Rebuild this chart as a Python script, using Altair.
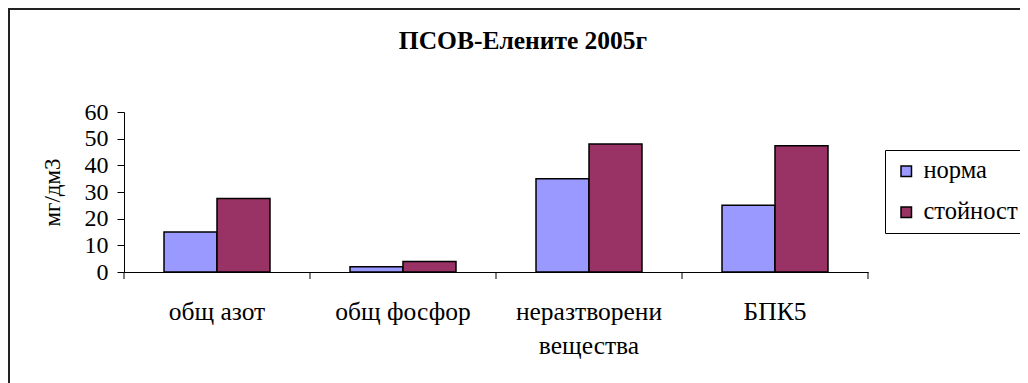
import altair as alt
import pandas as pd

title_text = ["ПСОВ-Елените 2005г"]
categories = ["общ азот", "общ фосфор", "неразтворени вещества", "БПК5"]
series = ["норма", "стойност"]
norma = [15, 2, 35, 25]
stoinost = [27.6, 3.9, 48, 47.3]
colors = ["#9999FF", "#993366"]
y_ticks = [0, 10, 20, 30, 40, 50, 60]
y_title = "мг/дм3"

rows = []
for c, n, s in zip(categories, norma, stoinost):
    rows.append({"cat": c, "series": series[0], "value": n})
    rows.append({"cat": c, "series": series[1], "value": s})
df = pd.DataFrame(rows)
cat_df = pd.DataFrame({"cat": categories})
title_df = pd.DataFrame({"t": title_text})
one = pd.DataFrame({"a": [0]})

W, H = 1012, 375
FONT = "Liberation Serif"
X0, X1 = 116, 860
Y0, Y1 = 264, 104

xscale = alt.Scale(domain=categories, range=[X0, X1], paddingInner=0, paddingOuter=0)
yscale = alt.Scale(domain=[0, 60], range=[Y0, Y1], nice=False, zero=True)

bars = alt.Chart(df).mark_bar(stroke="black", strokeWidth=1.5).encode(
    x=alt.X("cat:N", scale=xscale, sort=categories,
            axis=alt.Axis(title=None, orient="bottom", offset=-(H - Y0), ticks=False,
                          labelAngle=0, labelFont=FONT, labelFontSize=25.5, labelColor="black",
                          labelPadding=27, labelLineHeight=34, domainColor="black",
                          labelExpr="datum.label == 'неразтворени вещества' ? ['неразтворени', 'вещества'] : datum.label")),
    xOffset=alt.XOffset("series:N", sort=series,
                        scale=alt.Scale(paddingInner=0, paddingOuter=0.755)),
    y=alt.Y("value:Q", scale=yscale,
            axis=alt.Axis(values=y_ticks, orient="left", offset=-X0, grid=False, tickSize=7,
                          tickColor="black", domainColor="black", labelFont=FONT,
                          labelFontSize=24, labelColor="black", labelPadding=9,
                          title=y_title, titleFont=FONT, titleFontSize=23,
                          titleFontWeight="normal", titleColor="black",
                          titleX=-72, titleY=(Y0 + Y1) / 2, titleAngle=-90,
                          titleAlign="center", titleBaseline="middle")),
    color=alt.Color("series:N", sort=series, scale=alt.Scale(domain=series, range=colors),
                    legend=alt.Legend(orient="none", legendX=877, legendY=142, title=None,
                                      strokeColor="black", fillColor="white", padding=9,
                                      labelFont=FONT, labelFontSize=24.5, labelColor="black",
                                      symbolType="square", symbolSize=110,
                                      symbolStrokeColor="black", symbolStrokeWidth=1.5,
                                      symbolOpacity=1, rowPadding=16, labelOffset=5)),
)

cat_ticks = alt.Chart(cat_df).mark_rule(color="black", strokeWidth=1).encode(
    x=alt.X("cat:N", scale=xscale, sort=categories, bandPosition=0),
    y=alt.value(Y0), y2=alt.value(Y0 + 7),
)
end_tick = alt.Chart(cat_df).transform_filter(
    alt.datum.cat == categories[-1]
).mark_rule(color="black", strokeWidth=1).encode(
    x=alt.X("cat:N", scale=xscale, sort=categories, bandPosition=1),
    y=alt.value(Y0), y2=alt.value(Y0 + 7),
)

title = alt.Chart(title_df).mark_text(
    font=FONT, fontSize=25.5, fontWeight="bold", color="black", baseline="alphabetic", align="center"
).encode(x=alt.value(515), y=alt.value(41), text="t:N")

frame_left = alt.Chart(one).mark_rule(color="#222", strokeWidth=2).encode(
    x=alt.value(1), y=alt.value(0), y2=alt.value(H))
frame_top = alt.Chart(one).mark_rule(color="#222", strokeWidth=2).encode(
    x=alt.value(0), x2=alt.value(W), y=alt.value(1))

chart = alt.layer(bars, cat_ticks, end_tick, title, frame_left, frame_top).properties(
    width=W, height=H, autosize=alt.AutoSizeParams(type="none"), padding=0,
    background="white"
).configure(font=FONT).configure_view(stroke=None).configure_legend(
    labelFont=FONT).configure_axis(labelFont=FONT, titleFont=FONT)

chart.save("out.html", embed_options={"renderer": "svg", "actions": False})
